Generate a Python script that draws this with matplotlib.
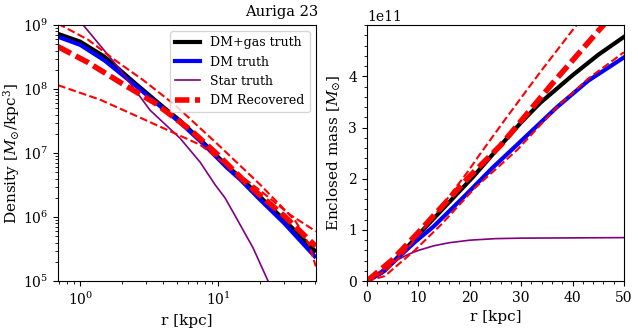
import numpy as np
import matplotlib
matplotlib.use('Agg')
import matplotlib.pyplot as plt

plt.rcParams['font.family'] = 'DejaVu Serif'
plt.rcParams['mathtext.fontset'] = 'dejavuserif'
plt.rcParams['font.size'] = 10

# density profiles (r in kpc, rho in Msun/kpc^3)
r_truth = [0.7, 1.0, 1.5, 2.5, 4.1, 5.3, 8.0, 11.6, 14.4, 20, 30, 50]
rho_dmgas = [7.2e8, 5.5e8, 3.2e8, 1.23e8, 5.0e7, 3.2e7, 1.38e7, 6.3e6, 4.2e6, 2.1e6, 9.1e5, 3.0e5]
rho_dm = [6.5e8, 4.9e8, 2.8e8, 1.15e8, 4.7e7, 3.0e7, 1.32e7, 5.9e6, 3.9e6, 1.9e6, 8.1e5, 2.45e5]

r_star = [0.95, 1.95, 3.2, 5.3, 7.4, 9.5, 11.2, 13.2, 17.9, 23.0, 25]
rho_star = [1.3e9, 2.0e8, 4.7e7, 1.7e7, 7.2e6, 3.2e6, 2.0e6, 1.07e6, 3.3e5, 1.0e5, 7e4]

r_rec = [0.69, 1.14, 2.0, 3.5, 6.3, 10, 17, 30, 51]
rho_rec = [4.6e8, 2.6e8, 1.23e8, 6.0e7, 2.3e7, 9.3e6, 3.0e6, 1.05e6, 3.5e5]

r_rec_hi = [0.69, 1.14, 1.8, 2.86, 4.88, 10, 20.2, 36, 42, 46, 51]
rho_rec_hi = [1.05e9, 5.9e8, 2.8e8, 1.38e8, 5.6e7, 1.35e7, 3.2e6, 8.9e5, 5.2e5, 3.5e5, 1.7e5]

r_rec_lo = [0.69, 1.4, 2.7, 4.7, 7.4, 12.2, 20.2, 33, 51]
rho_rec_lo = [1.15e8, 6.8e7, 3.6e7, 2.1e7, 1.35e7, 5.9e6, 2.6e6, 1.1e6, 6.0e5]

# enclosed mass profiles (in 1e11 Msun)
r_m_dmgas = [0, 3.5, 6.8, 10.9, 15.8, 20.6, 25.3, 30, 33.7, 40, 45, 50]
m_dmgas = [0, 0.21, 0.55, 1.0, 1.52, 2.03, 2.57, 3.1, 3.48, 4.02, 4.42, 4.77]

r_m_dm = [0, 3, 6, 9.3, 13, 19, 24.5, 27.8, 37, 43, 50]
m_dm = [0, 0.17, 0.45, 0.76, 1.07, 1.66, 2.22, 2.53, 3.40, 3.91, 4.37]

r_m_star = [0, 2, 4, 6, 8, 10, 13, 16, 20, 25, 30, 50]
m_star = [0, 0.15, 0.3, 0.42, 0.52, 0.6, 0.69, 0.75, 0.8, 0.83, 0.84, 0.85]

r_m_rec = [0, 5, 10, 15, 20, 26, 36, 46, 50]
m_rec = [0, 0.42, 0.95, 1.5, 2.05, 2.65, 3.85, 5.0, 5.45]

r_m_rec_hi = [0, 3.9, 7.8, 13, 19.5, 22, 27.2, 33.7, 40, 42]
m_rec_hi = [0, 0.22, 0.62, 1.26, 2.12, 2.48, 3.2, 4.08, 4.9, 5.15]

r_m_rec_lo = [0, 3.5, 9.3, 14.6, 21, 29.2, 37, 43, 50]
m_rec_lo = [0, 0.1, 0.6, 1.12, 1.82, 2.56, 3.4, 3.95, 4.47]

fig = plt.figure(figsize=(6.38, 3.30), dpi=100)
ax1 = fig.add_axes([0.091, 0.148, 0.404, 0.776])
ax2 = fig.add_axes([0.575, 0.148, 0.403, 0.776])

thick_dash = (2.6, 1.0)

ax1.plot(r_truth, rho_dmgas, color='k', lw=3, label='DM+gas truth')
ax1.plot(r_truth, rho_dm, color='b', lw=3, label='DM truth')
ax1.plot(r_star, rho_star, color='purple', lw=1.2, label='Star truth')
ax1.plot(r_rec, rho_rec, color='r', lw=4, dashes=thick_dash, label='DM Recovered')
ax1.plot(r_rec_hi, rho_rec_hi, color='r', lw=1.5, ls='--')
ax1.plot(r_rec_lo, rho_rec_lo, color='r', lw=1.5, ls='--')
ax1.set_xscale('log')
ax1.set_yscale('log')
ax1.set_xlim(0.69, 51)
ax1.set_ylim(1e5, 1e9)
ax1.set_xlabel('r [kpc]', fontsize=11)
ax1.set_ylabel(r'Density [$M_{\odot}$/kpc$^3$]', fontsize=11, labelpad=1)
fig.text(318 / 638, 1 - 12 / 330, 'Auriga 23', ha='right', va='center', fontsize=10.5)
ax1.legend(loc='upper right', fontsize=9)

scale = 1e11
ax2.plot(r_m_dmgas, np.array(m_dmgas) * scale, color='k', lw=3)
ax2.plot(r_m_dm, np.array(m_dm) * scale, color='b', lw=3)
ax2.plot(r_m_star, np.array(m_star) * scale, color='purple', lw=1.2)
ax2.plot(r_m_rec, np.array(m_rec) * scale, color='r', lw=4, dashes=thick_dash)
ax2.plot(r_m_rec_hi, np.array(m_rec_hi) * scale, color='r', lw=1.5, ls='--')
ax2.plot(r_m_rec_lo, np.array(m_rec_lo) * scale, color='r', lw=1.5, ls='--')
ax2.set_xlim(0, 50)
ax2.set_ylim(0, 5e11)
ax2.set_yticks([0, 1e11, 2e11, 3e11, 4e11])
ax2.minorticks_on()
ax2.set_xlabel('r [kpc]', fontsize=11)
ax2.set_ylabel(r'Enclosed mass [$M_{\odot}$]', fontsize=11)

plt.savefig('out.png', dpi=100)
